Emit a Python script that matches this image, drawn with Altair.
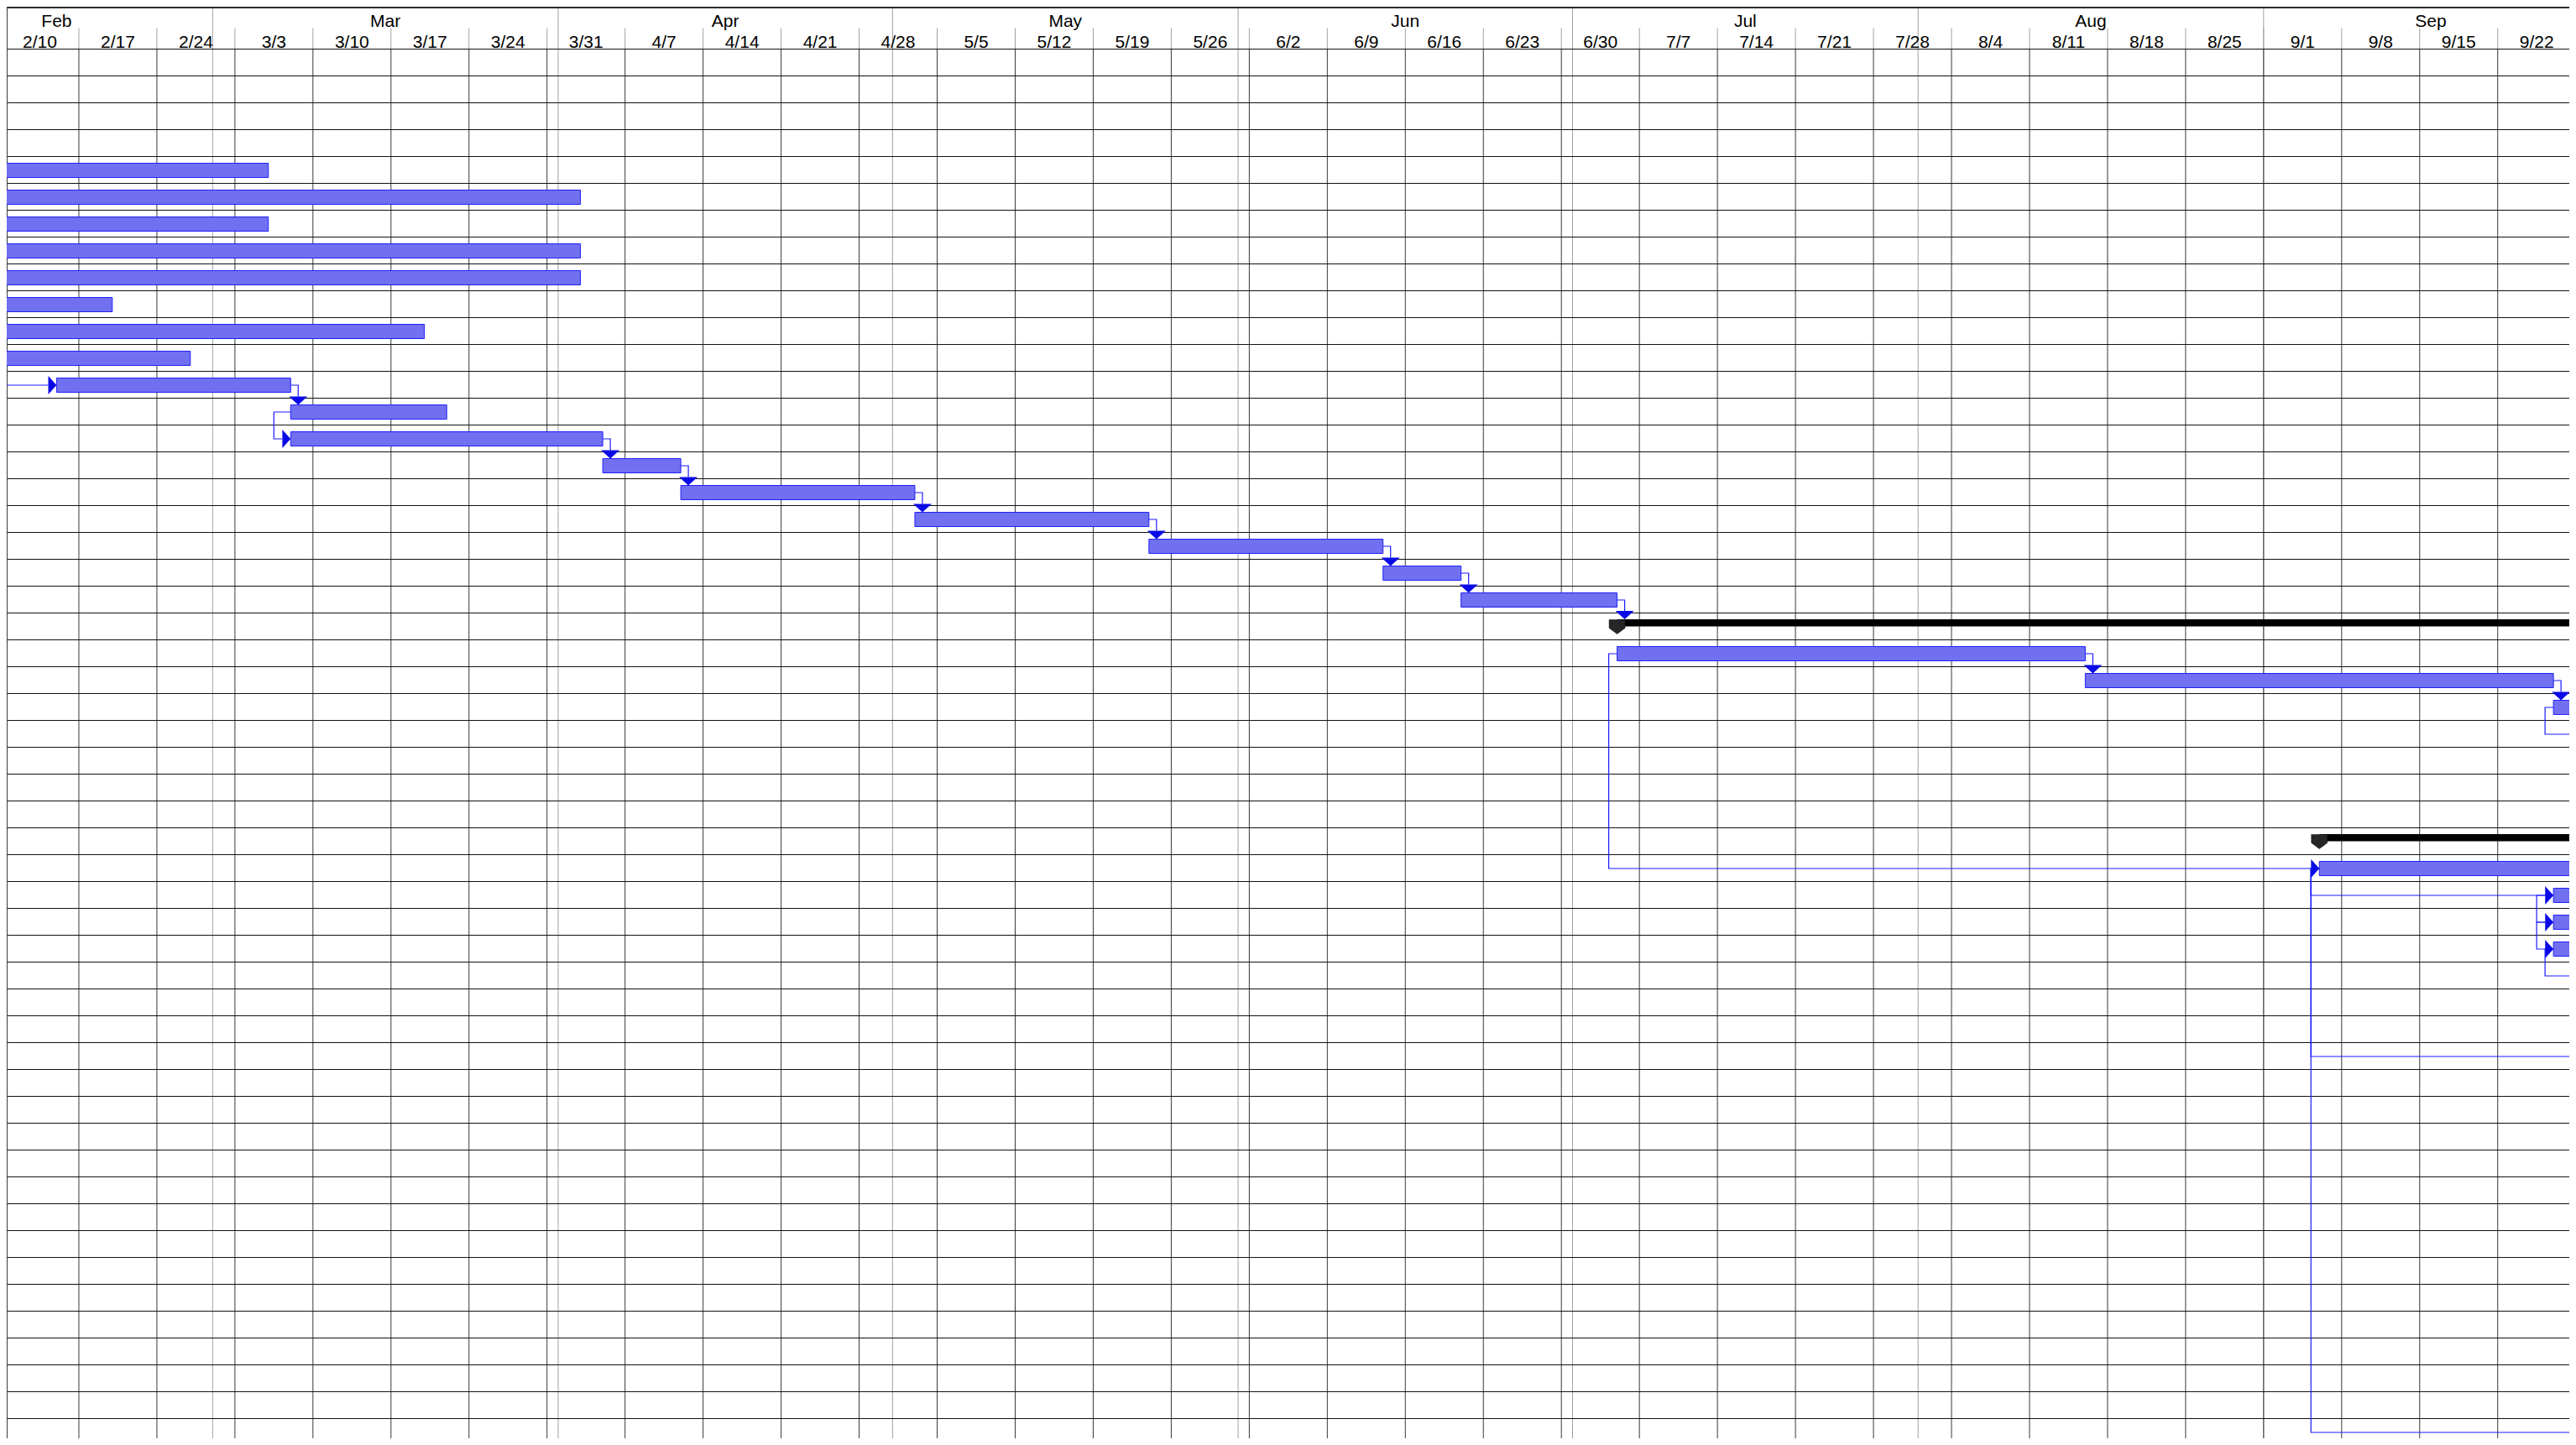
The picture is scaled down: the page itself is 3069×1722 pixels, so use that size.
import altair as alt
import pandas as pd

YEAR = 2013

# ---------------- data ----------------
month_labels = ["Feb", "Mar", "Apr", "May", "Jun", "Jul", "Aug", "Sep"]
month_starts = ["2/1", "3/1", "4/1", "5/1", "6/1", "7/1", "8/1", "9/1"]
month_ends = ["3/1", "4/1", "5/1", "6/1", "7/1", "8/1", "9/1", "10/1"]

week_labels = ["2/10", "2/17", "2/24", "3/3", "3/10", "3/17", "3/24", "3/31",
               "4/7", "4/14", "4/21", "4/28", "5/5", "5/12", "5/19", "5/26",
               "6/2", "6/9", "6/16", "6/23", "6/30", "7/7", "7/14", "7/21",
               "7/28", "8/4", "8/11", "8/18", "8/25", "9/1", "9/8", "9/15", "9/22"]

n_rows = 52

task_rows = [4, 5, 6, 7, 8, 9, 10, 11, 12, 13, 14, 15, 16, 17, 18, 19, 20,
             22, 23, 24, 30, 31, 32, 33]
task_starts = ["2/10", "2/10", "2/10", "2/10", "2/10", "2/10", "2/10", "2/10",
               "2/15", "3/8", "3/8", "4/5", "4/12", "5/3", "5/24", "6/14", "6/21",
               "7/5", "8/16", "9/27", "9/6", "9/27", "9/27", "9/27"]
task_ends = ["3/6", "4/3", "3/6", "4/3", "4/3", "2/20", "3/20", "2/27",
             "3/8", "3/22", "4/5", "4/12", "5/3", "5/24", "6/14", "6/21", "7/5",
             "8/16", "9/27", "10/25", "10/25", "10/11", "10/11", "10/11"]

summary_rows = [21, 29]
summary_starts = ["7/5", "9/6"]
summary_ends = ["11/29", "11/29"]

# successors that start beyond the visible range
offscreen_rows = [25, 34, 37, 51]
offscreen_starts = ["10/7", "10/7", "10/14", "10/21"]

# links: finish-to-start drawn downward, and links leaving from a bar's start
down_links = [(12, 13), (14, 15), (15, 16), (16, 17), (17, 18), (18, 19),
              (19, 20), (20, 21), (22, 23), (23, 24)]
back_links = [(13, 14), (22, 30), (24, 25), (30, 31), (30, 37), (30, 51),
              (31, 32), (32, 33), (33, 34)]
lead_in_rows = [12]
lead_in_from = ["2/3"]

# ---------------- geometry / style ----------------
W = 3053
H = 1706
PX_DAY = 13.28
ROW_PX = 32.0
x0 = 7 / PX_DAY
x1 = x0 + W / PX_DAY
y0 = -50.5 / ROW_PX
y1 = y0 + H / ROW_PX

BAR_TOP = 8 / ROW_PX
BAR_BOT = 25 / ROW_PX
MID = 16.5 / ROW_PX
SUM_TOP = 7.5 / ROW_PX
SUM_BOT = 16 / ROW_PX
ARW = 10 / PX_DAY
ELBOW = 9 / PX_DAY
BACK = 10 / PX_DAY


def day(s):
    m, d = (int(v) for v in s.split("/"))
    return (pd.Timestamp(YEAR, m, d) - pd.Timestamp(YEAR, 2, 10)).days


xs = alt.Scale(domain=[x0, x1], nice=False, zero=False)
ys = alt.Scale(domain=[y0, y1], nice=False, zero=False, reverse=True)


def X(f):
    return alt.X(f, type="quantitative", scale=xs, axis=None)


def Y(f):
    return alt.Y(f, type="quantitative", scale=ys, axis=None)


# header frames
months = pd.DataFrame({
    "label": month_labels,
    "start": [day(s) for s in month_starts],
    "end": [day(s) for s in month_ends],
})
months["mid"] = (months["start"] + months["end"]) / 2
months["ty"] = (31.7 - 58) / ROW_PX
months["top"] = y0
months["bot"] = y1
mlines = months[(months["start"] > x0) & (months["start"] < x1)]

weeks = pd.DataFrame({"label": week_labels, "start": [day(s) for s in week_labels]})
weeks["mid"] = weeks["start"] + 3.5
weeks["ty"] = (56.7 - 58) / ROW_PX
weeks["htop"] = -25 / ROW_PX
weeks["h0"] = 0.0
weeks["bot"] = y1
wlines = weeks[(weeks["start"] > x0) & (weeks["start"] < x1)]

rows = pd.DataFrame({"r": list(range(n_rows))})

tasks = pd.DataFrame({
    "row": task_rows,
    "s": [day(s) for s in task_starts],
    "e": [day(s) for s in task_ends],
})
tasks["yt"] = tasks["row"] + BAR_TOP
tasks["yb"] = tasks["row"] + BAR_BOT

sums = pd.DataFrame({
    "row": summary_rows,
    "s": [day(s) for s in summary_starts],
    "e": [day(s) for s in summary_ends],
})
sums["yt"] = sums["row"] + SUM_TOP
sums["yb"] = sums["row"] + SUM_BOT
sums["ym"] = sums["row"] + MID

start_of = {r: day(s) for r, s in zip(task_rows, task_starts)}
start_of.update({r: day(s) for r, s in zip(summary_rows, summary_starts)})
start_of.update({r: day(s) for r, s in zip(offscreen_rows, offscreen_starts)})
end_of = {r: day(s) for r, s in zip(task_rows, task_ends)}
top_of = {r: (SUM_TOP if r in summary_rows else BAR_TOP) for r in start_of}

pts, arrows_r, arrows_d = [], [], []
lid = 0
for p, s in down_links:
    e = end_of[p]
    ex = e + ELBOW
    for k, (x, y) in enumerate([(e, p + MID), (ex, p + MID),
                                (ex, s + top_of[s] - 10 / ROW_PX)]):
        pts.append({"link": lid, "seq": k, "x": x, "y": y})
    arrows_d.append({"x": ex, "y": s + top_of[s] - 4.95 / ROW_PX})
    lid += 1
for p, s in back_links:
    sp, ss = start_of[p], start_of[s]
    vx = min(sp, ss - ARW) - BACK
    for k, (x, y) in enumerate([(sp, p + MID), (vx, p + MID), (vx, s + MID),
                                (ss - ARW, s + MID)]):
        pts.append({"link": lid, "seq": k, "x": x, "y": y})
    arrows_r.append({"x": ss - 4.95 / PX_DAY, "y": s + MID})
    lid += 1
for r, f in zip(lead_in_rows, lead_in_from):
    ss = start_of[r]
    for k, (x, y) in enumerate([(day(f), r + MID), (ss - ARW, r + MID)]):
        pts.append({"link": lid, "seq": k, "x": x, "y": y})
    arrows_r.append({"x": ss - 4.95 / PX_DAY, "y": r + MID})
    lid += 1

links = pd.DataFrame(pts)
arr_r = pd.DataFrame(arrows_r)
arr_d = pd.DataFrame(arrows_d)
one = pd.DataFrame({"v": [0]})

# ---------------- layers ----------------
month_rules = alt.Chart(mlines).mark_rule(color="#a0a0a0", strokeWidth=1).encode(
    x=X("start"), y=Y("top"), y2="bot")
week_rules = alt.Chart(wlines).mark_rule(color="#383838", strokeWidth=1).encode(
    x=X("start"), y=Y("h0"), y2="bot")
week_ticks = alt.Chart(wlines).mark_rule(color="#a0a0a0", strokeWidth=1).encode(
    x=X("start"), y=Y("htop"), y2="h0")
row_rules = alt.Chart(rows).mark_rule(color="#111111", strokeWidth=1).encode(
    x=alt.value(0), x2=alt.value(W), y=Y("r"))
top_border = alt.Chart(one).mark_rule(color="#2a2a2a", strokeWidth=2).encode(
    x=alt.value(0), x2=alt.value(W), y=alt.value(1))
left_border = alt.Chart(one).mark_rule(color="#3a3a3a", strokeWidth=1).encode(
    x=alt.value(0.5), y=alt.value(0), y2=alt.value(H))

month_text = alt.Chart(months).mark_text(
    font="Liberation Sans", fontSize=21, color="black",
    align="center", baseline="alphabetic").encode(
    x=X("mid"), y=Y("ty"), text="label:N")
week_text = alt.Chart(weeks).mark_text(
    font="Liberation Sans", fontSize=21, color="black",
    align="center", baseline="alphabetic").encode(
    x=X("mid"), y=Y("ty"), text="label:N")

task_bars = alt.Chart(tasks).mark_rect(
    fill="#7070f0", stroke="#2020ff", strokeWidth=1, clip=True).encode(
    x=X("s"), x2="e", y=Y("yt"), y2="yb")
sum_bars = alt.Chart(sums).mark_rect(fill="black", clip=True).encode(
    x=X("s"), x2="e", y=Y("yt"), y2="yb")
sum_marks = alt.Chart(sums).mark_point(
    shape="M-1,-0.9L1,-0.9L1,0.15L0,0.9L-1,0.15Z", size=361, filled=True,
    fill="#262626", stroke="#111111", strokeWidth=0.5, opacity=1, clip=True).encode(
    x=X("s"), y=Y("ym"))

link_lines = alt.Chart(links).mark_line(
    color="#1c1cff", strokeWidth=1.2, clip=True).encode(
    x=X("x"), y=Y("y"), detail="link:N", order="seq:Q")
right_arrows = alt.Chart(arr_r).mark_point(
    shape="M-0.45,-1L0.45,0L-0.45,1Z", size=484, filled=True,
    fill="#0a0ae6", strokeWidth=0, opacity=1, clip=True).encode(
    x=X("x"), y=Y("y"))
down_arrows = alt.Chart(arr_d).mark_point(
    shape="M-1,-0.45L1,-0.45L0,0.45Z", size=484, filled=True,
    fill="#0a0ae6", strokeWidth=0, opacity=1, clip=True).encode(
    x=X("x"), y=Y("y"))

chart = alt.layer(
    month_rules, week_rules, week_ticks, row_rules, top_border, left_border,
    month_text, week_text, task_bars, sum_bars, link_lines,
    right_arrows, down_arrows, sum_marks,
).properties(
    width=W, height=H, padding=0,
    autosize=alt.AutoSizeParams(type="none"),
    background="white",
).configure_view(stroke=None)

chart.save("out.html", embed_options={"renderer": "svg", "actions": False})
